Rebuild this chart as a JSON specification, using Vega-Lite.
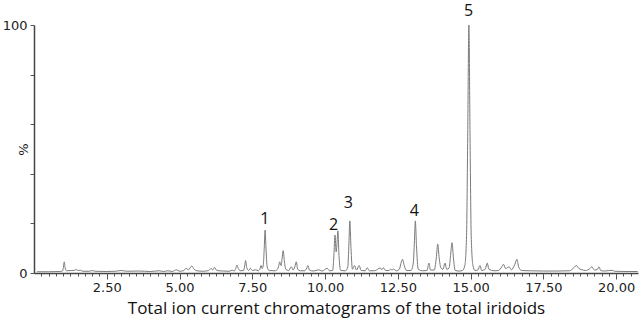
{
  "$schema": "https://vega.github.io/schema/vega-lite/v6.json",
  "autosize": {"type": "none"},
  "width": 604,
  "height": 248,
  "padding": {"left": 34, "top": 25, "right": 5, "bottom": 49},
  "background": "white",
  "config": {"view": {"stroke": null}},
  "datasets": {
    "tic": [
      {"t":0.1,"i":0.5},{"t":0.5,"i":0.5},{"t":0.9,"i":0.6},{"t":0.98,"i":0.8},{"t":1.01,"i":2.2},{"t":1.04,"i":4.5},{"t":1.07,"i":2.0},{"t":1.12,"i":0.9},{"t":1.3,"i":1.0},{"t":1.4,"i":1.1},{"t":1.45,"i":1.4},{"t":1.52,"i":1.0},{"t":1.6,"i":1.1},{"t":1.68,"i":0.7},{"t":1.9,"i":0.7},{"t":2.0,"i":1.0},{"t":2.1,"i":0.7},{"t":2.5,"i":0.6},{"t":2.8,"i":0.7},{"t":3.0,"i":1.0},{"t":3.2,"i":0.7},{"t":3.6,"i":0.8},{"t":4.0,"i":0.6},{"t":4.3,"i":0.9},{"t":4.45,"i":0.6},{"t":4.6,"i":0.9},{"t":4.75,"i":0.6},{"t":4.89,"i":1.3},{"t":5.0,"i":0.7},{"t":5.15,"i":1.0},{"t":5.23,"i":1.9},{"t":5.3,"i":1.3},{"t":5.42,"i":2.8},{"t":5.5,"i":1.5},{"t":5.6,"i":0.9},{"t":5.8,"i":0.7},{"t":6.0,"i":1.0},{"t":6.09,"i":1.9},{"t":6.14,"i":1.2},{"t":6.2,"i":2.3},{"t":6.28,"i":1.0},{"t":6.5,"i":0.8},{"t":6.7,"i":0.7},{"t":6.81,"i":1.1},{"t":6.88,"i":0.8},{"t":6.93,"i":1.8},{"t":6.97,"i":3.2},{"t":7.02,"i":1.8},{"t":7.08,"i":0.9},{"t":7.2,"i":1.0},{"t":7.24,"i":3.0},{"t":7.27,"i":5.0},{"t":7.31,"i":2.0},{"t":7.38,"i":1.0},{"t":7.43,"i":1.9},{"t":7.5,"i":1.0},{"t":7.62,"i":1.3},{"t":7.7,"i":0.9},{"t":7.76,"i":1.6},{"t":7.8,"i":3.0},{"t":7.84,"i":1.8},{"t":7.88,"i":3.5},{"t":7.91,"i":10},{"t":7.94,"i":17.3},{"t":7.97,"i":10},{"t":8.01,"i":2.5},{"t":8.08,"i":1.0},{"t":8.3,"i":0.9},{"t":8.4,"i":2.5},{"t":8.44,"i":4.5},{"t":8.49,"i":3.0},{"t":8.53,"i":6.5},{"t":8.56,"i":9},{"t":8.6,"i":5.0},{"t":8.65,"i":1.5},{"t":8.75,"i":1.0},{"t":8.84,"i":2.5},{"t":8.9,"i":1.2},{"t":8.96,"i":2.5},{"t":9.01,"i":4.5},{"t":9.06,"i":1.5},{"t":9.15,"i":0.9},{"t":9.3,"i":0.9},{"t":9.37,"i":2.0},{"t":9.41,"i":3.0},{"t":9.46,"i":1.2},{"t":9.6,"i":0.8},{"t":9.78,"i":1.3},{"t":9.9,"i":0.8},{"t":10.07,"i":1.9},{"t":10.15,"i":0.9},{"t":10.26,"i":1.0},{"t":10.3,"i":6.5},{"t":10.34,"i":15.3},{"t":10.38,"i":8.5},{"t":10.41,"i":12},{"t":10.44,"i":17},{"t":10.48,"i":6.5},{"t":10.54,"i":1.0},{"t":10.7,"i":0.9},{"t":10.78,"i":2.5},{"t":10.82,"i":12},{"t":10.85,"i":21},{"t":10.89,"i":10},{"t":10.94,"i":1.5},{"t":11.01,"i":3.0},{"t":11.08,"i":1.2},{"t":11.17,"i":3.0},{"t":11.24,"i":1.0},{"t":11.38,"i":0.9},{"t":11.45,"i":2.1},{"t":11.52,"i":0.9},{"t":11.7,"i":0.9},{"t":11.9,"i":2.0},{"t":11.95,"i":1.3},{"t":12.0,"i":2.1},{"t":12.08,"i":1.0},{"t":12.2,"i":1.0},{"t":12.25,"i":1.6},{"t":12.3,"i":1.2},{"t":12.35,"i":1.6},{"t":12.45,"i":0.9},{"t":12.55,"i":1.5},{"t":12.62,"i":4.5},{"t":12.66,"i":5.5},{"t":12.72,"i":3.0},{"t":12.8,"i":1.0},{"t":12.95,"i":1.0},{"t":13.03,"i":4},{"t":13.07,"i":13},{"t":13.1,"i":21},{"t":13.14,"i":11},{"t":13.2,"i":1.5},{"t":13.35,"i":0.9},{"t":13.5,"i":1.0},{"t":13.57,"i":4.0},{"t":13.62,"i":1.2},{"t":13.75,"i":1.2},{"t":13.82,"i":6},{"t":13.87,"i":11.7},{"t":13.92,"i":6},{"t":13.98,"i":2.0},{"t":14.05,"i":1.5},{"t":14.12,"i":4.0},{"t":14.18,"i":1.5},{"t":14.26,"i":2},{"t":14.31,"i":7},{"t":14.36,"i":12.2},{"t":14.41,"i":6},{"t":14.47,"i":1.0},{"t":14.6,"i":0.8},{"t":14.72,"i":1.0},{"t":14.8,"i":3},{"t":14.86,"i":15},{"t":14.9,"i":55},{"t":14.94,"i":100},{"t":14.98,"i":55},{"t":15.02,"i":15},{"t":15.08,"i":3},{"t":15.15,"i":1.0},{"t":15.25,"i":1.2},{"t":15.32,"i":3.0},{"t":15.38,"i":1.0},{"t":15.5,"i":1.5},{"t":15.57,"i":4.0},{"t":15.63,"i":1.5},{"t":15.8,"i":0.9},{"t":15.95,"i":1.0},{"t":16.07,"i":2.5},{"t":16.13,"i":3.5},{"t":16.2,"i":1.8},{"t":16.32,"i":2.5},{"t":16.4,"i":1.3},{"t":16.52,"i":3.5},{"t":16.59,"i":5.5},{"t":16.65,"i":2.5},{"t":16.75,"i":1.0},{"t":17.0,"i":0.9},{"t":17.5,"i":0.8},{"t":18.0,"i":0.8},{"t":18.4,"i":0.9},{"t":18.55,"i":2.2},{"t":18.63,"i":3.0},{"t":18.72,"i":1.8},{"t":18.8,"i":1.4},{"t":18.95,"i":1.0},{"t":19.1,"i":1.8},{"t":19.17,"i":2.5},{"t":19.25,"i":1.2},{"t":19.35,"i":1.4},{"t":19.41,"i":2.5},{"t":19.47,"i":1.0},{"t":19.6,"i":0.8},{"t":19.86,"i":1.1},{"t":19.95,"i":0.7},{"t":20.3,"i":0.6},{"t":20.74,"i":0.6}
    ],
    "labels": [
      {"t": 7.93, "y": 21.8, "label": "1"},
      {"t": 10.29, "y": 19.2, "label": "2"},
      {"t": 10.8, "y": 28.2, "label": "3"},
      {"t": 13.07, "y": 25.2, "label": "4"},
      {"t": 14.93, "y": 105.8, "label": "5"}
    ]
  },
  "resolve": {"axis": {"x": "independent"}},
  "layer": [
    {
      "data": {"name": "tic"},
      "mark": {"type": "line", "color": "#7a7a7a", "strokeWidth": 1, "interpolate": "monotone", "clip": true},
      "encoding": {
        "x": {
          "field": "t", "type": "quantitative",
          "scale": {"domain": [0, 20.75], "nice": false, "zero": false},
          "axis": {
            "orient": "bottom",
            "title": null,
            "values": [0.25,0.5,0.75,1,1.25,1.5,1.75,2,2.25,2.75,3,3.25,3.5,3.75,4,4.25,4.5,4.75,5.25,5.5,5.75,6,6.25,6.5,6.75,7,7.25,7.75,8,8.25,8.5,8.75,9,9.25,9.5,9.75,10.25,10.5,10.75,11,11.25,11.5,11.75,12,12.25,12.75,13,13.25,13.5,13.75,14,14.25,14.5,14.75,15.25,15.5,15.75,16,16.25,16.5,16.75,17,17.25,17.75,18,18.25,18.5,18.75,19,19.25,19.5,19.75,20.25,20.5],
            "labels": false,
            "tickSize": 3, "tickColor": "#555", "tickWidth": 1,
            "domainColor": "#444", "domainWidth": 1.5,
            "grid": false
          }
        },
        "y": {
          "field": "i", "type": "quantitative",
          "scale": {"domain": [0, 100], "nice": false},
          "axis": {
            "title": "%",
            "titleFont": "DejaVu Sans", "titleFontSize": 13, "titleFontWeight": "normal", "titleColor": "#222",
            "titleX": -11, "titleY": 124, "titleAlign": "center", "titleBaseline": "middle", "titleAngle": -90,
            "values": [0,10,20,30,40,50,60,70,80,90,100],
            "labelExpr": "datum.value == 0 || datum.value == 100 ? datum.label : ''",
            "labelFont": "DejaVu Sans", "labelFontSize": 13, "labelColor": "#222",
            "labelPadding": 3, "labelFlush": false,
            "tickSize": 4, "tickColor": "#555",
            "domainColor": "#444", "domainWidth": 1.5,
            "grid": false
          }
        }
      }
    },
    {
      "data": {"name": "labels"},
      "mark": {"type": "text", "font": "Open Sans", "fontSize": 16, "color": "#111", "baseline": "middle", "align": "center", "clip": false},
      "encoding": {
        "x": {
          "field": "t", "type": "quantitative",
          "axis": {
            "orient": "bottom",
            "title": "Total ion current chromatograms of the total iridoids",
            "titleFont": "Open Sans", "titleFontSize": 17, "titleFontWeight": "normal", "titleColor": "#111",
            "titlePadding": 6,
            "values": [2.5, 5, 7.5, 10, 12.5, 15, 17.5, 20],
            "format": ".2f",
            "labelFont": "DejaVu Sans", "labelFontSize": 13, "labelColor": "#222",
            "labelPadding": 2, "labelFlush": false, "labelOverlap": false,
            "tickSize": 6, "tickColor": "#555", "tickWidth": 1,
            "domain": false,
            "grid": false
          }
        },
        "y": {"field": "y", "type": "quantitative"},
        "text": {"field": "label"}
      }
    }
  ]
}
